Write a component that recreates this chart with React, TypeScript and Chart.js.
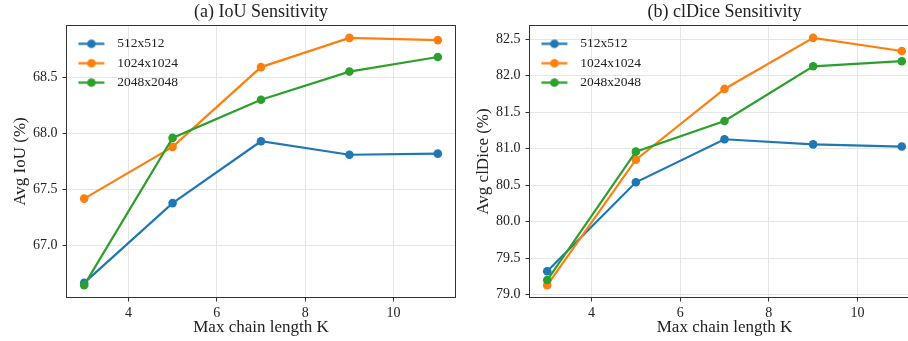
import React, { useEffect, useRef } from "react";
import { Chart, registerables } from "chart.js";

Chart.register(...registerables);

// ---- data ----
const kValues = [3, 5, 7, 9, 11];
const seriesLabels = ["512x512", "1024x1024", "2048x2048"];
const seriesColors = ["#1f77b4", "#ff7f0e", "#2ca02c"];

const iou512 = [66.67, 67.38, 67.93, 67.81, 67.82];
const iou1024 = [67.42, 67.88, 68.59, 68.85, 68.83];
const iou2048 = [66.65, 67.96, 68.3, 68.55, 68.68];

const cl512 = [79.32, 80.54, 81.13, 81.06, 81.03];
const cl1024 = [79.13, 80.85, 81.82, 82.52, 82.34];
const cl2048 = [79.2, 80.96, 81.38, 82.13, 82.2];

const xTicks = [4, 6, 8, 10];
const iouTicks = [67.0, 67.5, 68.0, 68.5];
const clTicks = [79.0, 79.5, 80.0, 80.5, 81.0, 81.5, 82.0, 82.5];

const FONT = '"Liberation Serif", "Times New Roman", serif';
const TEXT = "#222";
const SPINE = "#333";
const GRID = "#e6e6e6";
const TOP = 25.5;

function padRange(vals: number[]) {
  const mn = Math.min(...vals);
  const mx = Math.max(...vals);
  const m = (mx - mn) * 0.05;
  return [mn - m, mx + m];
}

function legendImage(color: string) {
  const c = document.createElement("canvas");
  c.width = 28;
  c.height = 11;
  const ctx = c.getContext("2d")!;
  ctx.strokeStyle = color;
  ctx.lineWidth = 2.3;
  ctx.beginPath();
  ctx.moveTo(1, 5.5);
  ctx.lineTo(27, 5.5);
  ctx.stroke();
  ctx.fillStyle = color;
  ctx.beginPath();
  ctx.arc(14, 5.5, 4.3, 0, Math.PI * 2);
  ctx.fill();
  return c;
}

const framePlugin = {
  id: "panelFrame",
  afterDraw(chart: any, _args: any, opts: any) {
    const { ctx, chartArea } = chart;
    ctx.save();
    ctx.strokeStyle = SPINE;
    ctx.lineWidth = 1;
    ctx.strokeRect(chartArea.left, chartArea.top, chartArea.right - chartArea.left, chartArea.bottom - chartArea.top);
    if (opts && opts.text) {
      ctx.fillStyle = TEXT;
      ctx.font = `18px ${FONT}`;
      ctx.textAlign = "center";
      ctx.textBaseline = "alphabetic";
      ctx.fillText(opts.text, (chartArea.left + chartArea.right) / 2, chartArea.top - 8.2);
    }
    ctx.restore();
  },
};

type PanelCfg = {
  title: string;
  yLabel: string;
  series: number[][];
  yTicks: number[];
  yWidth: number;
  yTitlePad: number;
  padRight: number;
};

function buildConfig(cfg: PanelCfg): any {
  const [ymin, ymax] = padRange(cfg.series.flat());
  const [xmin, xmax] = padRange(kValues);
  const images = seriesColors.map(legendImage);
  return {
    type: "line",
    data: {
      datasets: cfg.series.map((vals, i) => ({
        label: seriesLabels[i],
        data: kValues.map((k, j) => ({ x: k, y: vals[j] })),
        borderColor: seriesColors[i],
        backgroundColor: seriesColors[i],
        pointBackgroundColor: seriesColors[i],
        pointBorderWidth: 0,
        pointRadius: 4.3,
        borderWidth: 2.2,
        tension: 0,
        fill: false,
        order: cfg.series.length - i,
      })),
    },
    plugins: [framePlugin],
    options: {
      animation: false,
      responsive: false,
      events: [],
      layout: { padding: { left: 0, top: TOP, right: cfg.padRight, bottom: 0 } },
      scales: {
        x: {
          type: "linear",
          min: xmin,
          max: xmax,
          afterBuildTicks: (s: any) => {
            s.ticks = xTicks.map((v) => ({ value: v }));
          },
          afterFit: (s: any) => {
            s.height = 43.5;
          },
          grid: { color: GRID, lineWidth: 1, tickColor: SPINE, tickLength: 4, tickWidth: 1 },
          border: { display: true, color: SPINE, width: 1 },
          ticks: {
            color: TEXT,
            font: { family: FONT, size: 14 },
            padding: 3.5,
            maxRotation: 0,
            callback: (v: any) => String(v),
          },
          title: {
            display: true,
            text: "Max chain length K",
            color: TEXT,
            font: { family: FONT, size: 17 },
            padding: { top: 0, bottom: 3 },
          },
        },
        y: {
          type: "linear",
          min: ymin,
          max: ymax,
          afterBuildTicks: (s: any) => {
            s.ticks = cfg.yTicks.map((v) => ({ value: v }));
          },
          afterFit: (s: any) => {
            s.width = cfg.yWidth;
          },
          grid: { color: GRID, lineWidth: 1, tickColor: SPINE, tickLength: 4, tickWidth: 1 },
          border: { display: true, color: SPINE, width: 1 },
          ticks: {
            color: TEXT,
            font: { family: FONT, size: 14 },
            padding: 5,
            callback: (v: any) => Number(v).toFixed(1),
          },
          title: {
            display: true,
            text: cfg.yLabel,
            color: TEXT,
            font: { family: FONT, size: 17 },
            padding: { top: cfg.yTitlePad, bottom: 0 },
          },
        },
      },
      plugins: {
        tooltip: { enabled: false },
        panelFrame: { text: cfg.title },
        legend: {
          position: "chartArea",
          align: "start",
          title: { display: true, text: "", font: { size: 1, lineHeight: 1 }, padding: { top: TOP + 4.65, bottom: 0 } },
          labels: {
            usePointStyle: true,
            pointStyleWidth: 38,
            padding: 5.9,
            color: TEXT,
            font: { family: FONT, size: 13.5 },
            sort: (a: any, b: any) => a.datasetIndex - b.datasetIndex,
            generateLabels: (chart: any) =>
              (Chart.defaults.plugins.legend.labels as any).generateLabels(chart).map((l: any) => ({
                ...l,
                pointStyle: images[l.datasetIndex],
              })),
          },
        },
      },
    },
  };
}

function Panel(props: { cfg: PanelCfg; left: number; width: number }) {
  const ref = useRef<HTMLCanvasElement | null>(null);
  useEffect(() => {
    if (!ref.current) return;
    const chart = new Chart(ref.current, buildConfig(props.cfg));
    return () => chart.destroy();
  }, []);
  return (
    <canvas
      ref={ref}
      width={props.width}
      height={341}
      style={{ position: "absolute", left: props.left, top: 0, width: props.width, height: 341 }}
    />
  );
}

const panelA: PanelCfg = {
  title: "(a) IoU Sensitivity",
  yLabel: "Avg IoU (%)",
  series: [iou512, iou1024, iou2048],
  yTicks: iouTicks,
  yWidth: 66.5,
  yTitlePad: 10,
  padRight: 14.5,
};

const panelB: PanelCfg = {
  title: "(b) clDice Sensitivity",
  yLabel: "Avg clDice (%)",
  series: [cl512, cl1024, cl2048],
  yTicks: clTicks,
  yWidth: 75.5,
  yTitlePad: 19,
  padRight: 14.5,
};

export default function App() {
  return (
    <div
      style={{
        position: "fixed",
        left: 0,
        top: 0,
        width: 908,
        height: 341,
        overflow: "hidden",
        background: "#ffffff",
      }}
    >
      <Panel cfg={panelA} left={0} width={470} />
      <Panel cfg={panelB} left={454} width={480} />
    </div>
  );
}
